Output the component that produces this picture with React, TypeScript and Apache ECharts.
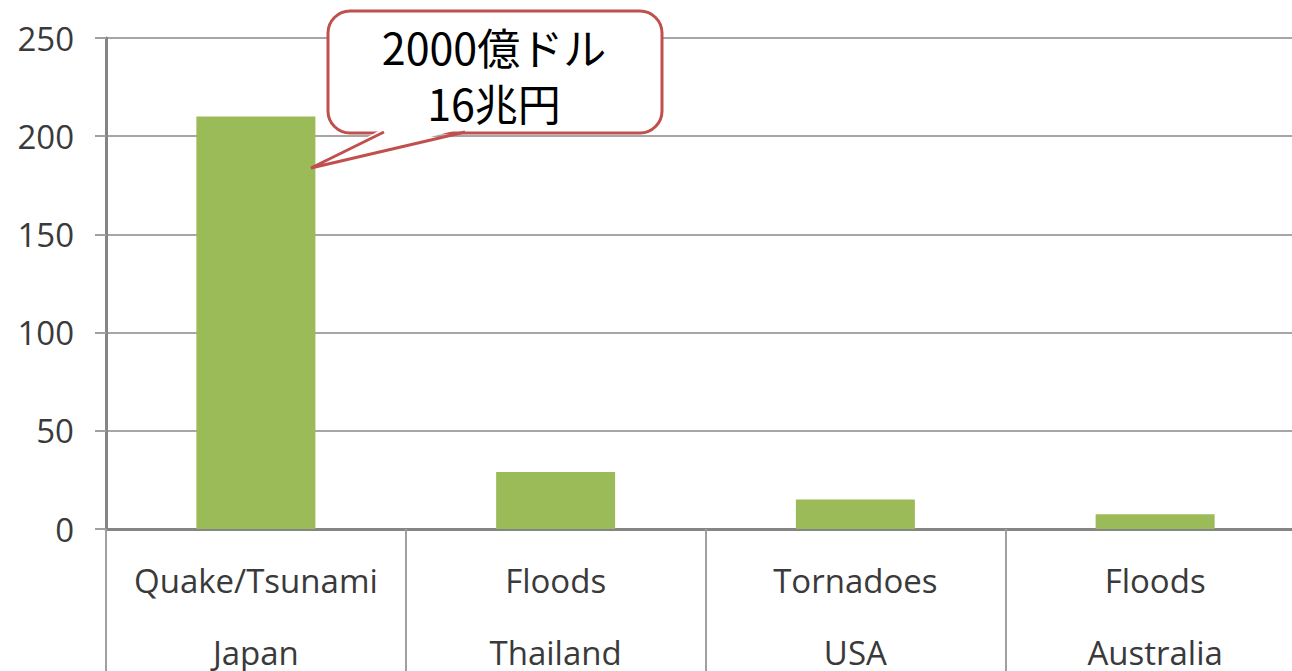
import React, { useEffect, useRef } from "react";
import * as echarts from "echarts";

const events = ["Quake/Tsunami", "Floods", "Tornadoes", "Floods"];
const countries = ["Japan", "Thailand", "USA", "Australia"];
const losses = [210, 29, 15, 7.5];
const yTicks = { min: 0, max: 250, interval: 50 };
const calloutLines = ["2000億ドル", "16兆円"];

export default function App() {
  const ref = useRef<HTMLDivElement>(null);
  useEffect(() => {
    if (!ref.current) return;
    const chart = echarts.init(ref.current, null, { renderer: "svg", width: 1292, height: 671 });
    const categories = events.map((e, i) => e + "\n" + countries[i]);
    const red = "#c0504d";
    chart.setOption({
      animation: false,
      backgroundColor: "#ffffff",
      grid: {
        left: 106,
        top: 38,
        width: 1199,
        height: 491,
        containLabel: false,
        outerBoundsMode: "none",
      },
      xAxis: {
        type: "category",
        data: categories,
        boundaryGap: true,
        axisLine: { show: true, lineStyle: { color: "#858585", width: 3 } },
        axisTick: {
          show: true,
          alignWithLabel: false,
          length: 150,
          lineStyle: { color: "#a0a0a0", width: 2 },
        },
        axisLabel: {
          color: "#3a3a3a",
          fontFamily: "Open Sans",
          fontSize: 33,
          lineHeight: 72,
          margin: 15,
          interval: 0,
        },
      },
      yAxis: {
        type: "value",
        min: yTicks.min,
        max: yTicks.max,
        interval: yTicks.interval,
        axisLine: { show: true, lineStyle: { color: "#858585", width: 3 } },
        axisTick: { show: true, length: 11, lineStyle: { color: "#a0a0a0", width: 2 } },
        axisLabel: {
          color: "#3a3a3a",
          fontFamily: "Open Sans",
          fontSize: 33,
          margin: 32,
        },
        splitLine: { show: true, lineStyle: { color: "#a6a6a6", width: 2 } },
      },
      series: [
        {
          type: "bar",
          data: losses,
          barWidth: 119,
          itemStyle: { color: "#9bbb59" },
        },
      ],
      graphic: [
        {
          type: "rect",
          shape: { x: 328, y: 11, width: 334, height: 122, r: 22 },
          style: { fill: "#ffffff", stroke: red, lineWidth: 3 },
          z: 100,
        },
        {
          type: "polygon",
          shape: { points: [[384, 128], [311, 168], [465, 128]] },
          style: { fill: "#ffffff" },
          z: 101,
        },
        {
          type: "polyline",
          shape: { points: [[384, 132], [311, 168], [465, 132]] },
          style: { stroke: red, lineWidth: 3, fill: null },
          z: 102,
        },
        {
          type: "text",
          x: 494,
          y: 74,
          style: {
            text: calloutLines.join("\n"),
            fill: "#000000",
            font: '43px "Noto Sans CJK JP"',
            lineHeight: 56,
            align: "center",
            verticalAlign: "middle",
          },
          z: 103,
        },
      ],
    });
    return () => chart.dispose();
  }, []);
  return (
    <div
      ref={ref}
      style={{ position: "fixed", left: 0, top: 0, width: 1292, height: 671 }}
    />
  );
}
